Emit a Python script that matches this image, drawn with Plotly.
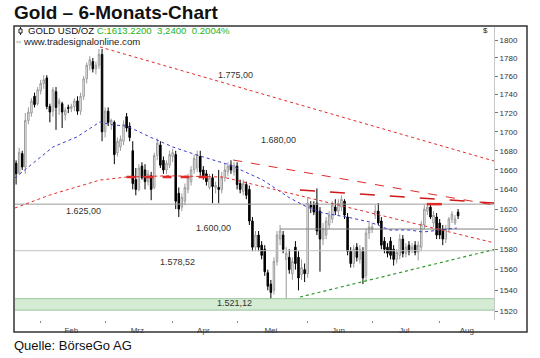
import math
import plotly.graph_objects as go

# ---------------- data ----------------
opens = [1667, 1657, 1677, 1663, 1712, 1720, 1738, 1730, 1744, 1752,
         1758, 1727, 1722, 1743, 1730, 1730, 1718, 1726, 1725, 1727,
         1733, 1722, 1738, 1757, 1772, 1776, 1768, 1772, 1784, 1700,
         1722, 1708, 1710, 1678, 1684, 1690, 1716, 1706, 1680, 1650,
         1640, 1664, 1660, 1648, 1654, 1642, 1675, 1686, 1670, 1660,
         1665, 1674, 1676, 1636, 1622, 1628, 1640, 1648, 1660, 1662,
         1674, 1660, 1656, 1642, 1652, 1642, 1642, 1640, 1652, 1658,
         1665, 1658, 1664, 1646, 1638, 1645, 1640, 1608, 1582, 1594,
         1584, 1580, 1557, 1546, 1540, 1568, 1590, 1594, 1570, 1572,
         1556, 1582, 1572, 1555, 1560, 1556, 1624, 1624, 1626, 1618,
         1590, 1594, 1604, 1610, 1622, 1618, 1622, 1628, 1612, 1578,
         1566, 1582, 1570, 1578, 1554, 1596, 1600, 1614, 1618, 1608,
         1588, 1582, 1588, 1580, 1570, 1574, 1590, 1576, 1584, 1580,
         1584, 1577, 1582, 1604, 1618, 1622, 1606, 1612, 1606, 1600,
         1590, 1600, 1610, 1606, 1617]
highs = [1670, 1683, 1680, 1720, 1726, 1736, 1742, 1748, 1756, 1761,
         1761, 1730, 1748, 1748, 1736, 1732, 1726, 1729, 1730, 1736,
         1738, 1742, 1760, 1775, 1782, 1780, 1776, 1790, 1790, 1726,
         1726, 1714, 1712, 1694, 1696, 1712, 1720, 1710, 1690, 1662,
         1666, 1668, 1666, 1660, 1658, 1678, 1693, 1690, 1674, 1670,
         1680, 1682, 1680, 1642, 1636, 1646, 1656, 1664, 1676, 1680,
         1680, 1664, 1660, 1656, 1656, 1648, 1660, 1658, 1666, 1668,
         1670, 1668, 1668, 1650, 1650, 1648, 1644, 1612, 1598, 1598,
         1588, 1584, 1560, 1550, 1572, 1598, 1604, 1598, 1582, 1580,
         1572, 1588, 1578, 1570, 1566, 1632, 1628, 1628, 1641, 1622,
         1606, 1612, 1618, 1628, 1630, 1630, 1634, 1630, 1616, 1582,
         1584, 1586, 1584, 1582, 1600, 1606, 1606, 1624, 1626, 1612,
         1592, 1586, 1592, 1584, 1580, 1595, 1594, 1586, 1588, 1586,
         1588, 1588, 1608, 1624, 1626, 1626, 1618, 1616, 1610, 1604,
         1604, 1612, 1618, 1614, 1620]
lows = [1645, 1655, 1660, 1656, 1708, 1716, 1726, 1728, 1740, 1746,
        1724, 1710, 1716, 1702, 1718, 1704, 1712, 1720, 1721, 1722,
        1718, 1718, 1734, 1752, 1766, 1764, 1762, 1768, 1690, 1694,
        1706, 1702, 1666, 1674, 1680, 1686, 1700, 1690, 1640, 1634,
        1638, 1650, 1640, 1644, 1629, 1640, 1670, 1662, 1656, 1656,
        1662, 1668, 1620, 1612, 1618, 1624, 1636, 1644, 1656, 1658,
        1654, 1650, 1644, 1640, 1626, 1636, 1626, 1636, 1648, 1654,
        1656, 1654, 1640, 1636, 1634, 1630, 1604, 1578, 1578, 1578,
        1570, 1554, 1540, 1527, 1536, 1564, 1584, 1576, 1532, 1556,
        1550, 1560, 1540, 1550, 1548, 1552, 1616, 1614, 1594, 1558,
        1584, 1590, 1600, 1606, 1614, 1614, 1618, 1610, 1574, 1562,
        1562, 1568, 1566, 1546, 1550, 1590, 1596, 1610, 1604, 1580,
        1576, 1572, 1570, 1564, 1566, 1570, 1572, 1572, 1574, 1576,
        1574, 1569, 1578, 1600, 1614, 1610, 1602, 1590, 1590, 1584,
        1586, 1598, 1606, 1604, 1610]
closes = [1656, 1678, 1663, 1712, 1721, 1733, 1729, 1745, 1752, 1756,
          1727, 1721, 1745, 1726, 1733, 1721, 1723, 1725, 1727, 1733,
          1722, 1738, 1757, 1772, 1778, 1768, 1772, 1784, 1700, 1722,
          1710, 1712, 1676, 1690, 1692, 1708, 1704, 1694, 1646, 1640,
          1662, 1652, 1648, 1656, 1640, 1675, 1688, 1665, 1660, 1667,
          1676, 1678, 1628, 1620, 1632, 1642, 1652, 1660, 1672, 1676,
          1658, 1654, 1648, 1652, 1643, 1644, 1640, 1652, 1660, 1664,
          1660, 1665, 1645, 1640, 1646, 1634, 1608, 1582, 1594, 1582,
          1574, 1558, 1544, 1538, 1568, 1594, 1598, 1580, 1576, 1560,
          1568, 1566, 1552, 1562, 1556, 1626, 1622, 1617, 1598, 1590,
          1600, 1608, 1614, 1624, 1618, 1626, 1630, 1614, 1578, 1566,
          1580, 1572, 1580, 1552, 1596, 1602, 1602, 1618, 1606, 1584,
          1580, 1576, 1574, 1570, 1577, 1590, 1576, 1582, 1578, 1582,
          1577, 1584, 1605, 1620, 1622, 1612, 1614, 1594, 1594, 1590,
          1600, 1610, 1615, 1610, 1613.22]

month_names = ["Feb", "Mrz", "Apr", "Mei", "Jun", "Jul", "Aug"]
month_start_bar = [8, 29, 51, 72, 95, 116, 138]
month_weekdays = [21, 22, 21, 23, 21, 22, 23]

# 50-day average (blue) and 200-day average (red), read at points
ma50_idx = [-0.4, 5.5, 12, 19.8, 27.3, 31.6, 36.1, 43.6, 51.1, 58.9, 69.7,
            80.4, 89.2, 94.8, 100, 107.8, 115.3, 121.8, 128.3, 132.5, 138.1, 143.6]
ma50_val = [1651.7, 1667.2, 1683.9, 1694.5, 1710.4, 1707.2, 1706.1, 1694.5, 1683.9,
            1675.5, 1665.1, 1649.6, 1631.2, 1622.1, 1616.0, 1612.0, 1607.0, 1599.0,
            1599.0, 1597.0, 1599.0, 1601.0]
ma200_idx = [-0.4, 11, 27.3, 36.1, 50, 67.4, 156]
ma200_val = [1621.1, 1634.3, 1649.6, 1652.7, 1654.0, 1652.7, 1586.1]

# trend lines (bar index, price)
trend_top_idx = [27.3, 156];   trend_top_val = [1792.3, 1669.0]
trend_mid_idx = [70.7, 156];   trend_mid_val = [1670.3, 1624.0]
trend_jun_idx = [92.5, 156];   trend_jun_val = [1639.4, 1626.0]
support_idx = [92.5, 156];     support_val = [1533.6, 1579.9]
resist_idx = [36, 65];         resist_val = [1652.7, 1652.7]
mark_idx = [133.8, 138.7];     mark_val = [1625.0, 1625.0]

level_1625 = 1625.0
level_1600 = 1600.0
level_1578 = 1578.52
band_low, band_high = 1521.12, 1532.0
level_labels = ["1.775,00", "1.680,00", "1.625,00", "1.600,00", "1.578,52", "1.521,12"]

y_ticks = list(range(1520, 1801, 20))

# ---------------- layout geometry ----------------
W, H = 540, 358
L, R, T, B = 15, 494, 27, 320
XR = [-0.36, 155.7]
YR = [math.log10(1511.8), math.log10(1814.7)]


def px(x):
    return (x - L) / (R - L)


def py(y):
    return (B - y) / (B - T)


n = len(closes)
xs = list(range(n))
RED = "#e02a2a"
FONT = "Liberation Sans"

fig = go.Figure()

# green band
fig.add_trace(go.Scatter(x=[-5, 170, 170, -5, -5],
                         y=[band_low, band_low, band_high, band_high, band_low],
                         mode="lines", fill="toself", fillcolor="#d4ecd4",
                         line=dict(color="#9cc49c", width=1), hoverinfo="skip"))
# horizontal levels
fig.add_trace(go.Scatter(x=[-5, 170], y=[level_1625, level_1625], mode="lines",
                         line=dict(color="#9a9a9a", width=1), hoverinfo="skip"))
fig.add_trace(go.Scatter(x=[86, 170], y=[level_1600, level_1600], mode="lines",
                         line=dict(color="#808080", width=1), hoverinfo="skip"))
fig.add_trace(go.Scatter(x=[-5, 170], y=[level_1578, level_1578], mode="lines",
                         line=dict(color="#c0c0c0", width=1), hoverinfo="skip"))

# candles
fig.add_trace(go.Candlestick(
    x=xs, open=opens, high=highs, low=lows, close=closes,
    increasing=dict(line=dict(color="#9a9a9a", width=1), fillcolor="#ffffff"),
    decreasing=dict(line=dict(color="#000000", width=1), fillcolor="#000000"),
    whiskerwidth=0, hoverinfo="skip"))

# averages
fig.add_trace(go.Scatter(x=ma50_idx, y=ma50_val, mode="lines",
                         line=dict(color="#3a3ad0", width=1, dash="dot"), hoverinfo="skip"))
fig.add_trace(go.Scatter(x=ma200_idx, y=ma200_val, mode="lines",
                         line=dict(color=RED, width=1, dash="dot"), hoverinfo="skip"))
# trend lines
fig.add_trace(go.Scatter(x=trend_top_idx, y=trend_top_val, mode="lines",
                         line=dict(color=RED, width=1, dash="dot"), hoverinfo="skip"))
fig.add_trace(go.Scatter(x=trend_mid_idx, y=trend_mid_val, mode="lines",
                         line=dict(color=RED, width=1, dash="dash"), hoverinfo="skip"))
fig.add_trace(go.Scatter(x=trend_jun_idx, y=trend_jun_val, mode="lines",
                         line=dict(color="#d01818", width=1.5, dash="longdash"), hoverinfo="skip"))
fig.add_trace(go.Scatter(x=support_idx, y=support_val, mode="lines",
                         line=dict(color="#2a9a2a", width=1.2, dash="dot"), hoverinfo="skip"))
fig.add_trace(go.Scatter(x=resist_idx, y=resist_val, mode="lines",
                         line=dict(color=RED, width=2.5, dash="dash"), hoverinfo="skip"))
fig.add_trace(go.Scatter(x=mark_idx, y=mark_val, mode="lines",
                         line=dict(color=RED, width=2.5), hoverinfo="skip"))

# month label positions (centre of visible part of each month)
label_pos = []
for s, w in zip(month_start_bar, month_weekdays):
    e = s + w
    label_pos.append((s + e - 1) / 2 if e <= XR[1] else (s + XR[1]) / 2)

level_pos = [(71.6, 1761.2), (85.6, 1691.3), (22.1, 1618.0),
             (64.2, 1601.0), (52.7, 1567.5), (71.0, 1528.0)]
annotations = []
for txt, (lx, ly) in zip(level_labels, level_pos):
    annotations.append(dict(text=txt, x=lx, y=math.log10(ly), xref="x", yref="y",
                            showarrow=False, font=dict(family=FONT, size=9, color="#333")))

annotations += [
    dict(text="<b>Gold – 6-Monats-Chart</b>", xref="paper", yref="paper",
         x=px(12), y=py(12.5), xanchor="left", yanchor="middle", showarrow=False,
         font=dict(family=FONT, size=19, color="#111")),
    dict(text="Quelle: BörseGo AG", xref="paper", yref="paper",
         x=px(12), y=py(345), xanchor="left", yanchor="middle", showarrow=False,
         font=dict(family=FONT, size=13, color="#111")),
    dict(text="GOLD USD/OZ <span style='color:#22b422'>C:1613.2200&nbsp;&nbsp;3,2400&nbsp;&nbsp;0.2004%</span>",
         xref="paper", yref="paper", x=px(26), y=py(31), xanchor="left", yanchor="middle",
         showarrow=False, font=dict(family=FONT, size=9.6, color="#111")),
    dict(text="www.tradesignalonline.com", xref="paper", yref="paper", x=px(21), y=py(41),
         xanchor="left", yanchor="middle", showarrow=False,
         font=dict(family=FONT, size=9.6, color="#222")),
    dict(text="⇔", xref="paper", yref="paper", x=px(14), y=py(41),
         xanchor="left", yanchor="middle", showarrow=False,
         font=dict(family="DejaVu Sans", size=6, color="#999")),
    dict(text="$", xref="paper", yref="paper", x=px(481), y=py(31),
         xanchor="left", yanchor="middle", showarrow=False,
         font=dict(family=FONT, size=8, color="#222")),
]

shapes = [
    dict(type="rect", xref="paper", yref="paper", x0=px(14), x1=px(527), y0=py(332), y1=py(26),
         line=dict(color="#333", width=1.5)),
    dict(type="line", xref="paper", yref="paper", x0=px(20.5), x1=px(20.5), y0=py(27), y1=py(35),
         line=dict(color="#222", width=1)),
    dict(type="rect", xref="paper", yref="paper", x0=px(19), x1=px(22), y0=py(33), y1=py(29),
         line=dict(color="#222", width=1), fillcolor="white"),
]

fig.update_layout(
    width=W, height=H, autosize=False,
    margin=dict(l=L, r=W - R, t=T, b=H - B, pad=0),
    paper_bgcolor="white", plot_bgcolor="white",
    showlegend=False, hovermode=False,
    annotations=annotations, shapes=shapes,
    xaxis=dict(range=XR, tickmode="array", tickvals=label_pos, ticktext=month_names,
               ticks="", showgrid=False, zeroline=False, showline=False,
               ticklabelstandoff=4,
               tickfont=dict(family=FONT, size=8, color="#444"),
               rangeslider=dict(visible=False), fixedrange=True,
               minor=dict(tickmode="array", tickvals=month_start_bar, ticks="outside",
                          ticklen=2, tickcolor="#888", tickwidth=1)),
    yaxis=dict(type="log", range=YR, side="right", tickmode="array", tickvals=y_ticks,
               ticktext=[str(v) for v in y_ticks], ticks="outside", ticklen=3,
               tickcolor="#777", showgrid=False, zeroline=False, showline=True,
               linecolor="#c8c8c8", linewidth=1,
               tickfont=dict(family=FONT, size=8, color="#333"), fixedrange=True),
)

# remove the browser's default 8px page margin so the figure sits at the window origin
fig.write_html("out.html", config={"displayModeBar": False, "staticPlot": True},
               post_script="document.body.style.margin='0px';")
